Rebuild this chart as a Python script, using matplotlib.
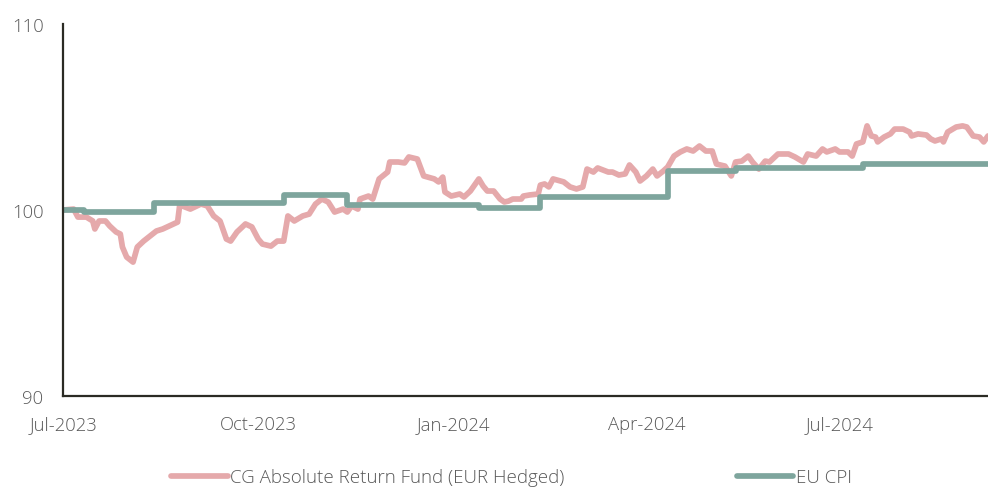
"""CG Absolute Return Fund (EUR Hedged) against EU CPI, rebased to 100."""

import matplotlib

matplotlib.use("Agg")

import matplotlib.dates as mdates
import matplotlib.pyplot as plt
import numpy as np

START = np.datetime64("2023-07-01")

# fund: days since 1 Jul 2023, index level
fund_days = [
    0, 5, 7, 11, 14, 15, 17, 20, 22, 25, 27, 28, 30, 33, 35, 38, 41, 44, 47, 50,
    54, 55, 60, 65, 68, 71, 74, 77, 79, 82, 86, 89, 92, 94, 98, 101, 104, 106,
    109, 113, 116, 119, 122, 125, 128, 132, 134, 136, 139, 140, 144, 146, 149,
    153, 154, 158, 161, 163, 167, 170, 175, 177, 179, 180, 183, 187, 189, 192,
    196, 198, 200, 203, 206, 208, 210, 212, 216, 217, 220, 224, 225, 227, 229,
    231, 236, 239, 242, 245, 247, 250, 252, 257, 259, 262, 265, 267, 270, 272,
    275, 278, 280, 283, 285, 288, 291, 294, 297, 300, 303, 306, 308, 312, 315,
    317, 320, 323, 325, 328, 331, 333, 337, 342, 345, 349, 351, 355, 358, 360,
    364, 366, 370, 372, 374, 377, 379, 381, 383, 384, 387, 390, 392, 396, 399,
    400, 403, 407, 409, 411, 414, 415, 417, 421, 424, 426, 429, 432, 434, 436,
]
fund_values = [
    100.00, 100.05, 99.62, 99.62, 99.41, 98.98, 99.41, 99.41, 99.14, 98.82,
    98.71, 98.01, 97.47, 97.20, 98.01, 98.33, 98.60, 98.87, 98.98, 99.14,
    99.35, 100.27, 100.05, 100.32, 100.22, 99.68, 99.41, 98.44, 98.33, 98.82,
    99.25, 99.09, 98.44, 98.17, 98.06, 98.33, 98.33, 99.68, 99.41, 99.68,
    99.78, 100.32, 100.59, 100.43, 99.89, 100.05, 99.89, 100.22, 100.05, 100.59,
    100.75, 100.59, 101.67, 102.04, 102.58, 102.58, 102.53, 102.85, 102.74, 101.83,
    101.67, 101.51, 101.77, 100.97, 100.75, 100.86, 100.70, 101.02, 101.67, 101.29,
    101.02, 101.02, 100.59, 100.43, 100.48, 100.59, 100.59, 100.75, 100.81, 100.86,
    101.34, 101.40, 101.24, 101.67, 101.51, 101.24, 101.13, 101.24, 102.20, 102.04,
    102.26, 102.04, 102.04, 101.88, 101.94, 102.42, 102.04, 101.56, 101.83, 102.20,
    101.83, 102.10, 102.31, 102.90, 103.12, 103.28, 103.17, 103.44, 103.17, 103.17,
    102.47, 102.36, 101.83, 102.58, 102.63, 102.90, 102.58, 102.20, 102.63, 102.58,
    103.01, 103.01, 102.85, 102.58, 103.01, 102.90, 103.28, 103.12, 103.28, 103.12,
    103.12, 102.90, 103.55, 103.66, 104.52, 103.98, 103.92, 103.66, 103.92, 104.09,
    104.35, 104.35, 104.19, 103.98, 104.09, 104.03, 103.82, 103.71, 103.82, 103.66,
    104.19, 104.46, 104.52, 104.46, 103.98, 103.92, 103.66, 103.98,
]

# EU CPI: day each new level starts, and the level
cpi_days = [0, 10, 43, 104, 134, 196, 225, 285, 317, 377, 436]
cpi_values = [100.00, 99.87, 100.40, 100.83, 100.27, 100.10, 100.70, 102.07, 102.26, 102.48, 102.48]

x_ticks = ["2023-07-01", "2023-10-01", "2024-01-01", "2024-04-01", "2024-07-01"]
y_ticks = [90, 100, 110]

FUND_COLOUR = "#e5a9ab"
CPI_COLOUR = "#7ea59d"
TEXT_COLOUR = "#595959"

plt.rcParams["font.family"] = ["Open Sans", "DejaVu Sans"]
plt.rcParams["font.weight"] = "light"

fund_dates = START + np.array(fund_days, dtype="timedelta64[D]")
cpi_dates = START + np.array(cpi_days, dtype="timedelta64[D]")

fig = plt.figure(figsize=(9.88, 4.89), dpi=100)
ax = fig.add_axes([0.0638, 0.188, 0.9362, 0.761])

ax.plot(fund_dates, fund_values, color=FUND_COLOUR, lw=4.1,
        solid_joinstyle="round", solid_capstyle="round",
        label="CG Absolute Return Fund (EUR Hedged)")
ax.plot(cpi_dates, cpi_values, color=CPI_COLOUR, lw=4.1, drawstyle="steps-post",
        solid_joinstyle="round", solid_capstyle="round", label="EU CPI")

ax.set_ylim(90, 110)
ax.set_xlim(START, START + np.timedelta64(436, "D"))
ax.set_yticks(y_ticks)
ax.set_xticks(np.array(x_ticks, dtype="datetime64[D]"))
ax.xaxis.set_major_formatter(mdates.DateFormatter("%b-%Y"))

for side in ("top", "right"):
    ax.spines[side].set_visible(False)
for side in ("left", "bottom"):
    ax.spines[side].set_color("#2b2b24")
    ax.spines[side].set_linewidth(1.6)

ax.tick_params(axis="both", length=0, labelsize=13.3, labelcolor=TEXT_COLOUR)
ax.tick_params(axis="y", pad=14)
ax.tick_params(axis="x", pad=13.5)

fig.legend(loc="center", bbox_to_anchor=(0.518, 0.022), ncol=2, frameon=False,
           fontsize=13.5, handlelength=3.0, handletextpad=0.15, columnspacing=9.2,
           borderaxespad=0, borderpad=0, labelcolor=TEXT_COLOUR)

fig.savefig("out.png", dpi=100)
